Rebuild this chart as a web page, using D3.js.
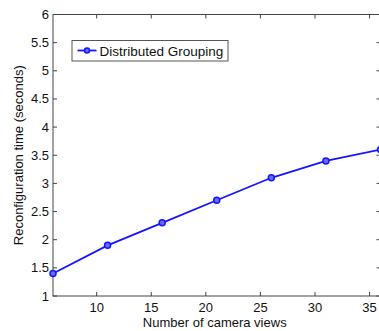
<html>
<script src="https://d3js.org/d3.v7.min.js"></script>
<body style="margin:0;background:#fff">
<svg width=379 height=331></svg>
<script>
const views=[6,11,16,21,26,31,36]
const times=[1.4,1.9,2.3,2.7,3.1,3.4,3.6]
const xTicks=[10,15,20,25,30,35]
const yTicks=[1,1.5,2,2.5,3,3.5,4,4.5,5,5.5,6]
const seriesName="Distributed Grouping"

const svg=d3.select("svg")
const margin={top:14.5, right:-1.5, bottom:35, left:53}
const W=379, H=331
const blue="#1414ff"
const axisColor="#444"
const font="'Liberation Sans', Arial, sans-serif"

const xs=d3.scaleLinear().domain([6,36]).range([margin.left, W-margin.right])
const ys=d3.scaleLinear().domain([1,6]).range([H-margin.bottom, margin.top])

// plot box
svg.append("rect")
.attr("x", xs(6)).attr("y", ys(6))
.attr("width", xs(36)-xs(6)).attr("height", ys(1)-ys(6))
.attr("fill", "none").attr("stroke", axisColor).attr("stroke-width", 1)

const tl=4
// x ticks bottom + top, inward
const xg=svg.append("g")
xg.selectAll("line.b").data(xTicks).enter().append("line")
.attr("x1", d=>xs(d)).attr("x2", d=>xs(d))
.attr("y1", ys(1)).attr("y2", ys(1)-tl)
.attr("stroke", axisColor)
xg.selectAll("line.t").data(xTicks).enter().append("line")
.attr("x1", d=>xs(d)).attr("x2", d=>xs(d))
.attr("y1", ys(6)).attr("y2", ys(6)+tl)
.attr("stroke", axisColor)
xg.selectAll("text").data(xTicks).enter().append("text")
.attr("x", d=>xs(d)).attr("y", ys(1)+16)
.attr("text-anchor", "middle")
.attr("font-family", font).attr("font-size", 13).attr("fill", "#111")
.text(d=>d)

// y ticks left + right
const yg=svg.append("g")
yg.selectAll("line.l").data(yTicks).enter().append("line")
.attr("x1", xs(6)).attr("x2", xs(6)+tl)
.attr("y1", d=>ys(d)).attr("y2", d=>ys(d))
.attr("stroke", axisColor)
yg.selectAll("line.r").data(yTicks).enter().append("line")
.attr("x1", xs(36)).attr("x2", xs(36)-tl)
.attr("y1", d=>ys(d)).attr("y2", d=>ys(d))
.attr("stroke", axisColor)
yg.selectAll("text").data(yTicks).enter().append("text")
.attr("x", xs(6)-4).attr("y", d=>ys(d)+4.5)
.attr("text-anchor", "end")
.attr("font-family", font).attr("font-size", 13).attr("fill", "#111")
.text(d=>d)

// axis titles
svg.append("text")
.attr("x", (xs(6)+xs(36))/2 - 2).attr("y", 327)
.attr("text-anchor", "middle")
.attr("font-family", font).attr("font-size", 13).attr("fill", "#111")
.text("Number of camera views")
svg.append("text")
.attr("transform", "translate(23,"+((ys(1)+ys(6))/2)+") rotate(-90)")
.attr("text-anchor", "middle")
.attr("font-family", font).attr("font-size", 13).attr("fill", "#111")
.text("Reconfiguration time (seconds)")

// series
const pts=views.map((v,i)=>[v,times[i]])
svg.append("path")
.datum(pts)
.attr("d", d3.line().x(d=>xs(d[0])).y(d=>ys(d[1])))
.attr("fill", "none").attr("stroke", blue).attr("stroke-width", 1.8)
svg.selectAll("circle.pt").data(pts).enter().append("circle")
.attr("cx", d=>xs(d[0])).attr("cy", d=>ys(d[1])).attr("r", 3)
.attr("fill", "#6a6aff").attr("stroke", blue).attr("stroke-width", 1.5)

// legend
const lg=svg.append("g")
lg.append("rect").attr("x", 72).attr("y", 40.5).attr("width", 156).attr("height", 20.5)
.attr("fill", "#fff").attr("stroke", "#555")
lg.append("line").attr("x1", 77.5).attr("x2", 96.5).attr("y1", 50.5).attr("y2", 50.5)
.attr("stroke", blue).attr("stroke-width", 1.8)
lg.append("circle").attr("cx", 87).attr("cy", 50.5).attr("r", 2.5)
.attr("fill", "#6a6aff").attr("stroke", blue).attr("stroke-width", 1.5)
lg.append("text").attr("x", 99.5).attr("y", 55.5)
.attr("font-family", font).attr("font-size", 13.5).attr("fill", "#111")
.text(seriesName)
</script>
</body>
</html>
